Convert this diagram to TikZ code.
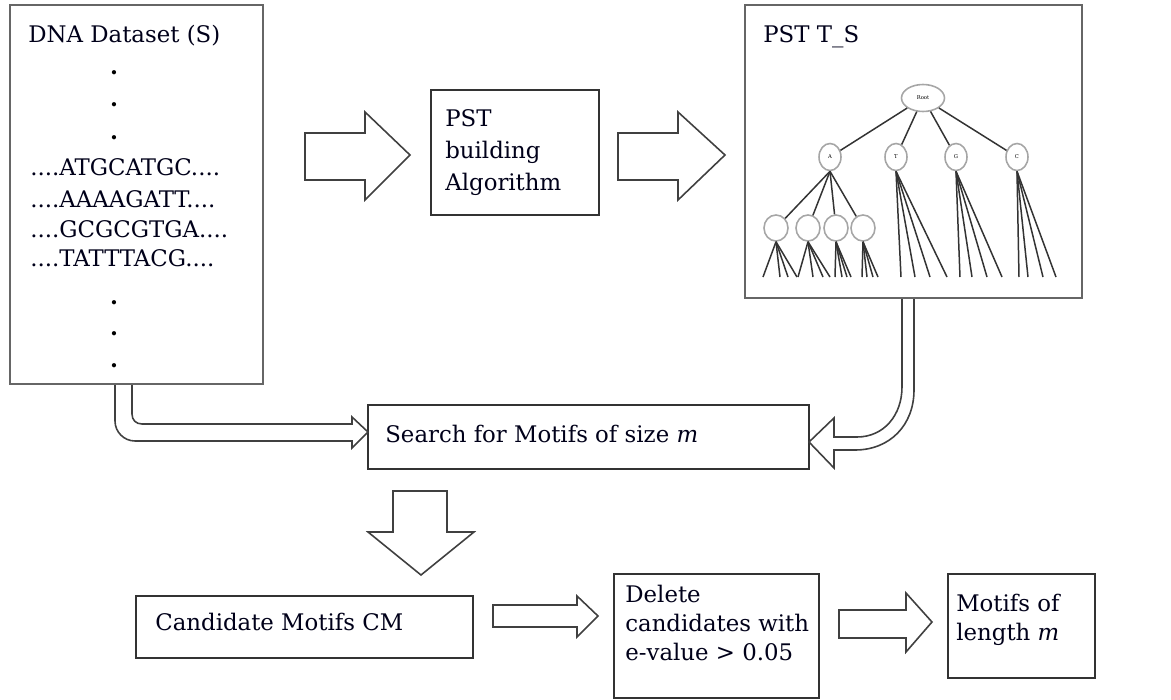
\documentclass[tikz,border=0pt]{standalone}
\usepackage{fontspec}
\setmainfont{DejaVu Serif}
\usetikzlibrary{shapes.geometric}
\def\u{0.02cm}
\tikzset{
  bx/.style 2 args={draw=black!80, line width=0.9pt, minimum width={#1*\u}, minimum height={#2*\u}, inner sep=0pt},
  bigbx/.style 2 args={bx={#1}{#2}, draw=black!60, line width=1.4pt},
  txt/.style={anchor=base west, inner sep=0pt, text=black!90!blue, font=\fontsize{13}{15}\selectfont},
  dotc/.style={anchor=base, inner sep=0pt, font=\fontsize{13}{15}\selectfont\bfseries},
  blk/.style={draw=black!75, line width=0.9pt, fill=white, line join=miter},
  dbl/.style={draw=black!75, line width=0.9pt, fill=white},
  tnode/.style={draw=black!35, line width=0.9pt, ellipse, inner sep=0pt, font=\fontsize{3}{3}\selectfont},
  tedge/.style={draw=black!80, line width=0.85pt},
}
\begin{document}
\begin{tikzpicture}[x=0.02cm,y=-0.02cm]
\useasboundingbox (0,0) rectangle (1171,700);

% boxes
\node[bigbx={253}{379}] (dna) at (136.5,194.5) {};
\node[bx={168}{125}] (pst) at (515,152.5) {};
\node[bigbx={337}{293}] (pstt) at (913.5,151.5) {};
\node[bx={441}{64}] (search) at (588.5,437) {};
\node[bx={337}{62}] (cand) at (304.5,627) {};
\node[bx={205}{124}] (del) at (716.5,636) {};
\node[bx={147}{104}] (mot) at (1021.5,626) {};

% DNA text
\node[txt] (dnat) at (28,42) {DNA Dataset (S)};
\node[dotc] (d1) at (114,74) {.};
\node[dotc] (d2) at (114,106) {.};
\node[dotc] (d3) at (114,139) {.};
\node[txt] (s1) at (30,175) {....ATGCATGC....};
\node[txt] (s2) at (30,207) {....AAAAGATT....};
\node[txt] (s3) at (30,237) {....GCGCGTGA....};
\node[txt] (s4) at (30,266) {....TATTTACG....};
\node[dotc] (d4) at (114,304) {.};
\node[dotc] (d5) at (114,335) {.};
\node[dotc] (d6) at (114,367) {.};

% PST building text
\node[txt] (p1) at (445,126) {PST};
\node[txt] (p2) at (445,158) {building};
\node[txt] (p3) at (445,190) {Algorithm};

% PST T_S text
\node[txt] (pt) at (763,42) {PST T\_S};

% other texts
\node[txt] (st) at (385,442) {Search for Motifs of size \textit{m}};
\node[txt] (ct) at (155,630) {Candidate Motifs CM};
\node[txt] (e1) at (625,602) {Delete};
\node[txt] (e2) at (625,631) {candidates with};
\node[txt] (e3) at (625,660) {e-value > 0.05};
\node[txt] (m1) at (956,611) {Motifs of};
\node[txt] (m2) at (956,640) {length \textit{m}};

% tree
\node[tnode, minimum width={43*\u}, minimum height={27*\u}] (root) at (923,98) {Root};
\foreach \n/\x in {A/830,T/896,G/956,C/1017}
  \node[tnode, minimum width={22*\u}, minimum height={27*\u}] (\n) at (\x,157) {\n};
\foreach \i/\x in {1/776,2/808,3/836,4/863}
  \node[tnode, minimum width={24*\u}, minimum height={26*\u}] (L\i) at (\x,228) {};
\foreach \n in {A,T,G,C} \draw[tedge] (root) -- (\n);
\foreach \i in {1,2,3,4} \draw[tedge] (A.south) -- (L\i);
\foreach \n/\xs in {L1/{763,780,788,797}, L2/{798,813,823,830}, L3/{835,842,847,851}, L4/{862,867,873,878}, T/{901,915,930,947}, G/{960,972,987,1002}, C/{1019,1028,1043,1056}}
  \foreach \x in \xs \draw[tedge] (\n.south) -- (\x,277);

% block arrows
\draw[blk] (305,133) -- (365,133) -- (365,112) -- (410,155) -- (365,200) -- (365,180) -- (305,180) -- cycle;
\draw[blk] (618,133) -- (678,133) -- (678,112) -- (725,155) -- (678,200) -- (678,180) -- (618,180) -- cycle;
\draw[blk] (393,491) -- (447,491) -- (447,532) -- (474,532) -- (421,575) -- (368,532) -- (393,532) -- cycle;
\draw[blk] (493,605) -- (577,605) -- (577,596) -- (598,616) -- (577,637) -- (577,627) -- (493,627) -- cycle;
\draw[blk] (839,610) -- (906,610) -- (906,593) -- (932,622) -- (906,652) -- (906,638) -- (839,638) -- cycle;

% double-line arrows
\draw[dbl] (115,385) -- (115,421) .. controls (115,432) and (124,441) .. (135,441) -- (352,441) -- (352,448) -- (368,432) -- (352,417) -- (352,424) -- (142,424) .. controls (136,424) and (132,420) .. (132,414) -- (132,385);
\draw[dbl] (914,299) -- (914,390) .. controls (914,425) and (890,450) .. (855,450) -- (834,450) -- (834,468) -- (809,442) -- (834,418) -- (834,437) -- (857,437) .. controls (884,437) and (902,415) .. (902,387) -- (902,299);
\end{tikzpicture}
\end{document}
